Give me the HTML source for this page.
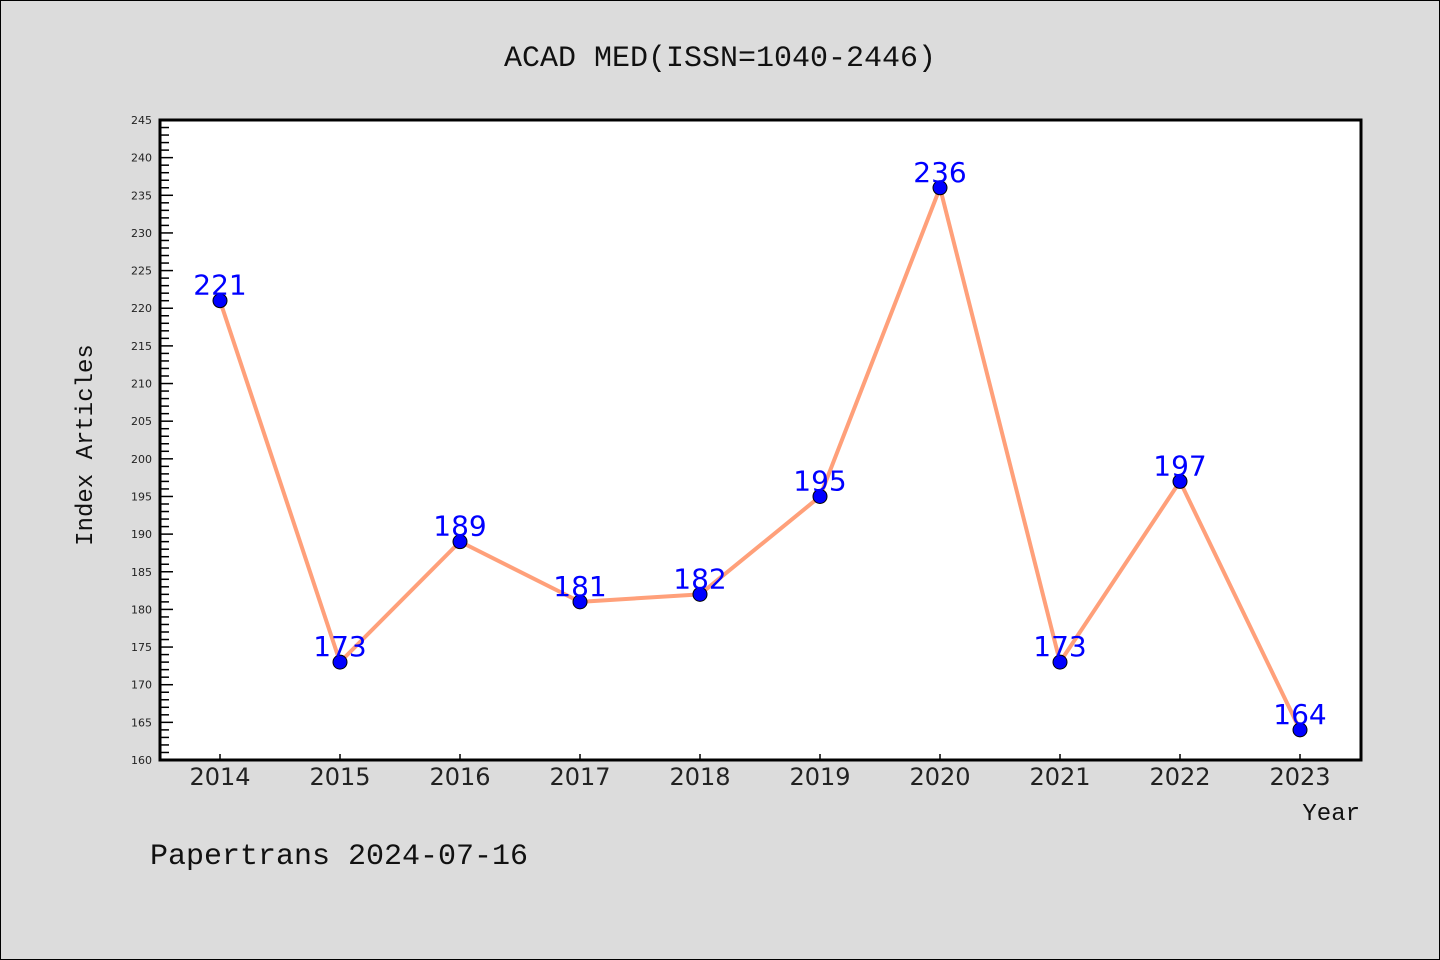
<!DOCTYPE html>
<html><head><meta charset="utf-8"><style>
body{margin:0;background:#dcdcdc;}
svg{display:block;font-family:"Liberation Mono","DejaVu Sans Mono",monospace;}
</style></head><body>
<svg id="chart" width="1440" height="960">
<rect x="0.5" y="0.5" width="1439" height="959" fill="#dcdcdc" stroke="#000"/>
<text x="720" y="66" text-anchor="middle" font-size="30" fill="#111">ACAD MED(ISSN=1040-2446)</text>
<rect x="160" y="120" width="1201" height="640" fill="#fff"/>
<g id="yaxis"></g>
<g id="xaxis"></g>
<g id="series"></g>
<rect x="160" y="120" width="1201" height="640" fill="none" stroke="#000" stroke-width="3"/>
<text x="92" y="445" transform="rotate(-90 92 445)" text-anchor="middle" font-size="24" fill="#111">Index Articles</text>
<text x="1360" y="820" text-anchor="end" font-size="24" fill="#111">Year</text>
<text x="150" y="864" font-size="30" fill="#111">Papertrans 2024-07-16</text>
</svg>
<script>
const years = ["2014","2015","2016","2017","2018","2019","2020","2021","2022","2023"];
const articles = [221,173,189,181,182,195,236,173,197,164];
const yTicks = [160,165,170,175,180,185,190,195,200,205,210,215,220,225,230,235,240,245];
const yMin=160,yMax=245,plotTop=120,plotBot=760;
const ns="http://www.w3.org/2000/svg";
function Y(v){return plotBot-(v-yMin)/(yMax-yMin)*(plotBot-plotTop);}
function X(i){return 220+i*120;}
function mk(t,a,p){const e=document.createElementNS(ns,t);for(const k in a)e.setAttribute(k,a[k]);p.appendChild(e);return e;}
const ya=document.getElementById('yaxis');
for(let v=yMin;v<=yMax;v++){
  const major=yTicks.includes(v);
  const l=mk('line',{x1:160,x2:major?173:169,y1:Y(v),y2:Y(v),stroke:'#000','stroke-width':1.5},ya);
  
  
}
yTicks.forEach(v=>{
  const t=mk('text',{x:152,y:Y(v)+4,'text-anchor':'end','font-size':11,fill:'#222','font-family':'"DejaVu Sans",sans-serif'},ya);
  t.textContent=v;
  
  
});
const xa=document.getElementById('xaxis');
years.forEach((y,i)=>{
  const l=mk('line',{x1:X(i),x2:X(i),y1:760,y2:754,stroke:'#000','stroke-width':1.5},xa);
  
  
  const t=mk('text',{x:X(i),y:785,'text-anchor':'middle','font-size':24,fill:'#222','font-family':'"DejaVu Sans",sans-serif'},xa);
  t.textContent=y;
  
  
});
const sg=document.getElementById('series');
const pl=mk('polyline',{points:articles.map((v,i)=>X(i)+','+Y(v)).join(' '),fill:'none',stroke:'#ffa07a','stroke-width':4,'stroke-linejoin':'round'},sg);


articles.forEach((v,i)=>{
  const c=mk('circle',{cx:X(i),cy:Y(v),r:7,fill:'#0000ff',stroke:'#000','stroke-width':1},sg);
  
  
  const t=mk('text',{x:X(i),y:Y(v)-6,'text-anchor':'middle','font-size':28,fill:'#0000ff','font-family':'"DejaVu Sans",sans-serif'},sg);
  t.textContent=v;
  
  
});
</script>
</body></html>
